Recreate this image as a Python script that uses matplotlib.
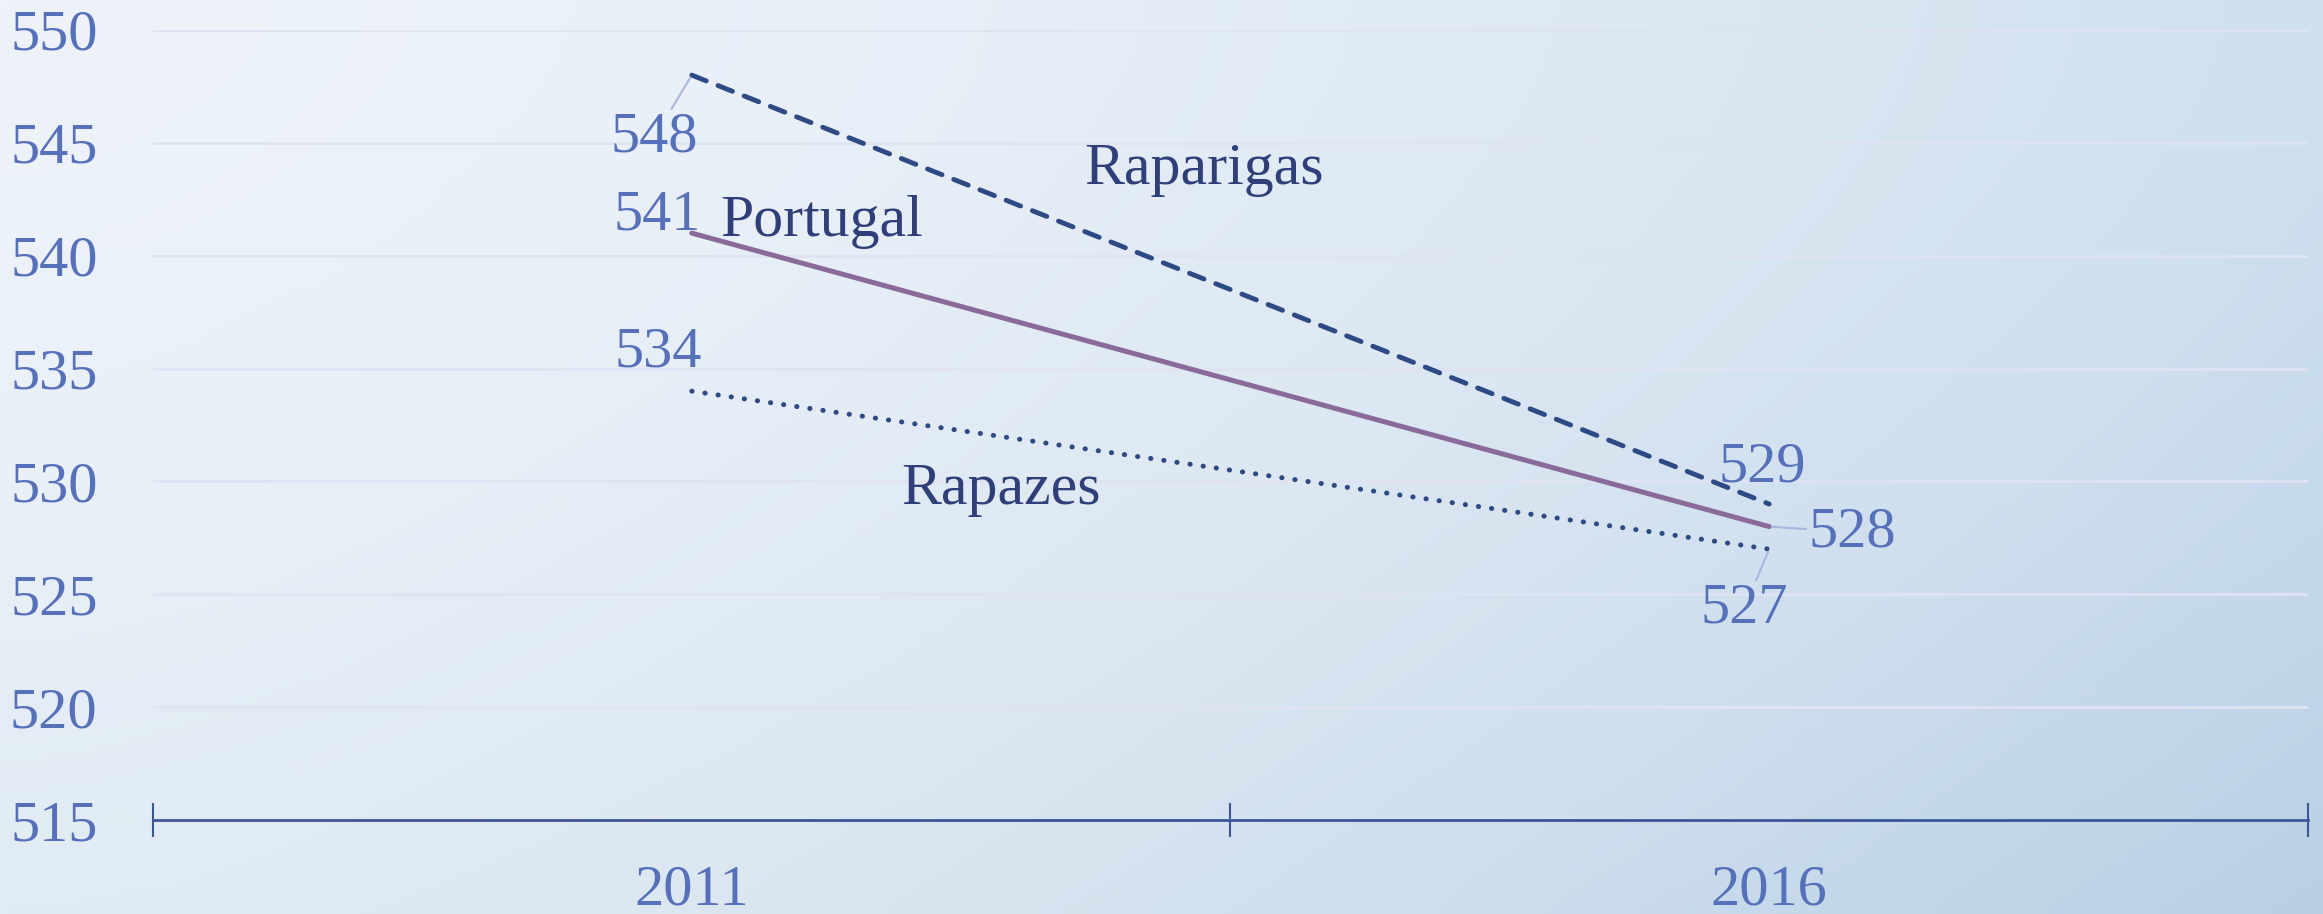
import numpy as np
import matplotlib
matplotlib.use("Agg")
import matplotlib.pyplot as plt

years = ["2011", "2016"]
raparigas = [548, 529]
portugal = [541, 528]
rapazes = [534, 527]

# label offsets (points) for each value label
lab_off = {
    "raparigas": [(-27, -45), (-5, 26)],
    "portugal": [(-25, 13), (60, -4)],
    "rapazes": [(-24, 28), (-18, -43)],
}
leader = {
    "raparigas": [True, False],
    "portugal": [False, True],
    "rapazes": [False, True],
}

plt.rcParams['font.family'] = ['Liberation Serif', 'DejaVu Serif']

fig = plt.figure(figsize=(23.23, 9.14), dpi=100)

# background gradient
bg = fig.add_axes([0, 0, 1, 1])
tl = np.array([0xEE, 0xF3, 0xFA]) / 255
tr = np.array([0xCF, 0xE0, 0xEE]) / 255
bl = np.array([0xE0, 0xEB, 0xF3]) / 255
br = np.array([0xB8, 0xCF, 0xE5]) / 255
u = np.linspace(0, 1, 300)[None, :, None] ** 1.6
v = np.linspace(0, 1, 120)[:, None, None] ** 1.6
img = (1 - v) * ((1 - u) * tl + u * tr) + v * ((1 - u) * bl + u * br)
bg.imshow(img, aspect='auto', extent=[0, 1, 0, 1], origin='upper')
bg.axis('off')

ax = fig.add_axes([0.0659, 0.1028, 0.9276, 0.8644])
ax.patch.set_alpha(0)

x = np.arange(len(years))
navy = '#2E4A85'
ax.plot(x, raparigas, color=navy, lw=3.5, ls=(0, (3.2, 2.6)), dash_capstyle='round', zorder=3)
ax.plot(x, portugal, color='#8A6A98', lw=3.6, solid_capstyle='round', zorder=3)
ax.plot(x, rapazes, color=navy, lw=3.6, ls=(0, (0.05, 2.6)), dash_capstyle='round', zorder=3)

lab_col = '#5670BA'
for key, vals in [("raparigas", raparigas), ("portugal", portugal), ("rapazes", rapazes)]:
    for i, v_ in enumerate(vals):
        ap = None
        if leader[key][i]:
            ap = dict(arrowstyle='-', color='#A9B6DE', lw=1.5, shrinkA=0, shrinkB=2)
        ax.annotate(str(v_), (x[i], v_), xytext=lab_off[key][i], textcoords='offset points',
                    ha='center', va='center', fontsize=42, color=lab_col, arrowprops=ap, zorder=4)

ser_col = '#2E3F7A'
ax.text(0.475, 543.8, "Raparigas", fontsize=43, color=ser_col, ha='center', va='center')
ax.text(0.121, 541.5, "Portugal", fontsize=43, color=ser_col, ha='center', va='center')
ax.text(0.287, 529.6, "Rapazes", fontsize=43, color=ser_col, ha='center', va='center')

ax.set_xlim(-0.5, 1.5)
ax.set_ylim(515, 550)
ax.set_yticks(np.arange(515, 551, 5))
ax.grid(axis='y', color='#DFE3F2', lw=2)
ax.set_axisbelow(True)

ax.set_xticks([-0.5, 0.5, 1.5])
ax.set_xticklabels([])
ax.set_xticks(x, minor=True)
ax.set_xticklabels(years, minor=True)
ax.tick_params(axis='x', which='major', direction='inout', length=24, width=1.5, color='#3B5597')
ax.tick_params(axis='x', which='minor', length=0, pad=32, labelsize=42, labelcolor=lab_col)
ax.tick_params(axis='y', length=0, pad=40, labelsize=42, labelcolor=lab_col)

for s in ['top', 'right', 'left']:
    ax.spines[s].set_visible(False)
ax.spines['bottom'].set_color('#3B5597')
ax.spines['bottom'].set_linewidth(2)

fig.savefig("out.png", dpi=100)
